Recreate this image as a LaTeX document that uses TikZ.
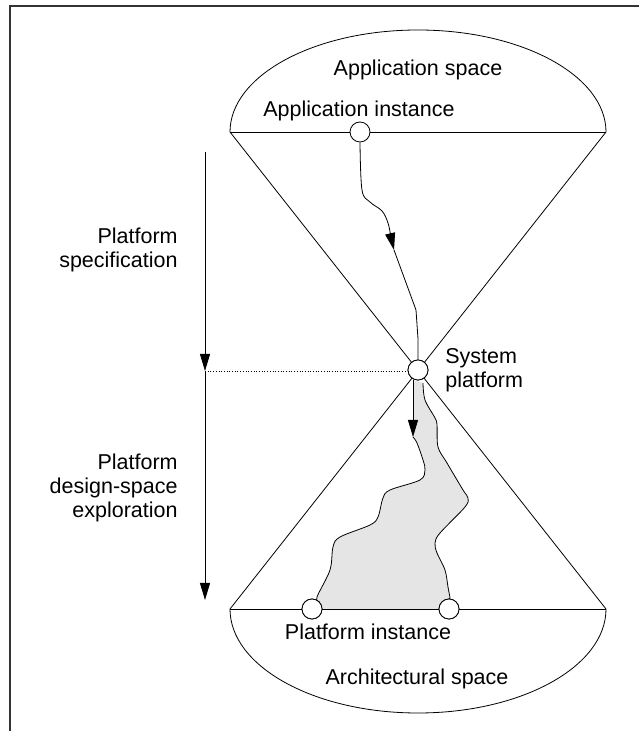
\documentclass[tikz,border=0pt]{standalone}
\usepackage{fontspec}
\setmainfont{Liberation Sans}
\usetikzlibrary{arrows.meta}
\begin{document}
\begin{tikzpicture}[x=1pt,y=1pt,
  line width=0.8pt,
  dot/.style={circle,draw,fill=white,minimum size=20pt,inner sep=0pt,line width=0.8pt},
  lbl/.style={font=\fontsize{21.5}{24}\selectfont,inner sep=0pt},
  tip/.style={-{Triangle[length=17pt,width=10pt]}},
  region/.style={fill=black!10}]
\useasboundingbox (0,0) rectangle (639,731);
% frame
\draw[line width=1.5pt,black!80] (10,0) -- (10,725) -- (639,725);
% hourglass geometry
\coordinate (tl) at (230,599);
\coordinate (tr) at (606,599);
\coordinate (bl) at (230,122);
\coordinate (br) at (606,122);
\draw (tl) arc[start angle=180,end angle=0,x radius=188pt,y radius=102pt];
\draw (tl) -- (tr);
\draw (bl) arc[start angle=180,end angle=360,x radius=188pt,y radius=104pt];
\draw (bl) -- (br);
\draw (tl) -- (br);
\draw (tr) -- (bl);
% shaded exploration region
\fill[region] (413,351) -- (413,294)
  -- plot[smooth,tension=0.55] coordinates {(413,294) (417,288) (423,271) (425,261) (420,251) (390,241) (383,233) (378,214) (370,206) (340,194) (333,184) (330,161) (317,134) (312,122)}
  -- (449,122)
  -- plot[smooth,tension=0.55] coordinates {(449,122) (450,133) (448,144) (445,161) (437,178) (435,188) (440,198) (465,224) (468,233) (463,241) (447,268) (438,284) (437,306) (435,313) (425,331) (423,348)}
  -- cycle;
% nodes
\node[dot] (ai) at (360,599) {};
\node[dot] (sp) at (418,361) {};
\node[dot] (pi1) at (312,122) {};
\node[dot] (pi2) at (449,122) {};
% top path
\draw[tip] plot[smooth,tension=0.6] coordinates {(ai.south) (362,541) (370,529) (382,520) (388,508) (391,494) (394,481)};
\draw (394,481) -- (416,421) -- (418,392) -- (sp.north);
% lower paths
\draw[tip] (413,351) -- (413,294);
\draw plot[smooth,tension=0.55] coordinates {(413,294) (417,288) (423,271) (425,261) (420,251) (390,241) (383,233) (378,214) (370,206) (340,194) (333,184) (330,161) (317,134) (pi1.north east)};
\draw plot[smooth,tension=0.55] coordinates {(pi2.north) (450,133) (448,144) (445,161) (437,178) (435,188) (440,198) (465,224) (468,233) (463,241) (447,268) (438,284) (437,306) (435,313) (425,331) (423,348)};
\node[dot] at (pi1) {};
\node[dot] at (pi2) {};
\node[dot] at (sp) {};
% left arrows
\coordinate (a1) at (205,579);
\coordinate (mid) at (205,360);
\coordinate (a2) at (205,131);
\draw[tip] (a1) -- (mid);
\draw[tip] (mid) -- (a2);
\draw[dotted,line width=0.7pt] (mid) -- (mid -| sp.west);
% labels
\node[lbl] (as) at (418,661) {Application space};
\node[lbl] (ait) at (359,620) {Application instance};
\node[lbl,anchor=west,align=left] (spt) at (445,361) {System\\platform};
\node[lbl] (pit) at (368,99) {Platform instance};
\node[lbl] (arch) at (417,52) {Architectural space};
\node[lbl,anchor=east,align=right] (ps) at (178,481) {Platform\\specification};
\node[lbl,anchor=east,align=right] (pd) at (178,243) {Platform\\design-space\\exploration};
\end{tikzpicture}
\end{document}
